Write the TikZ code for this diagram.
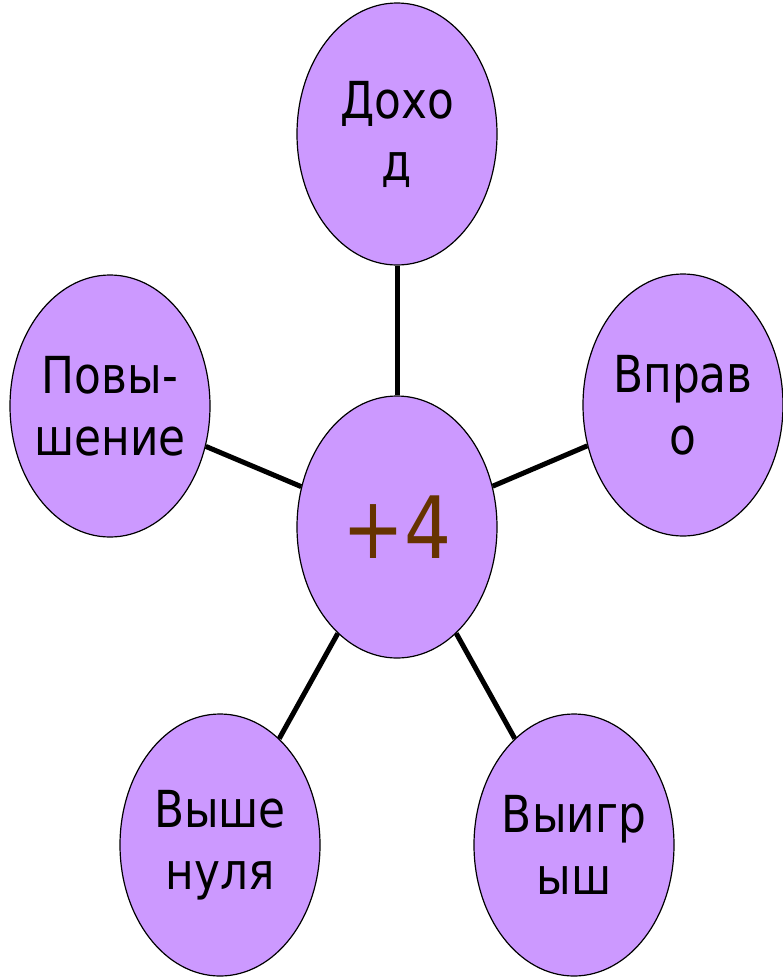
\documentclass[tikz,border=0pt]{standalone}
\usepackage{fontspec}
\setmainfont[FakeStretch=0.86]{DejaVu Sans}
\usetikzlibrary{shapes.geometric}
\definecolor{lilac}{HTML}{CC99FF}
\definecolor{brownish}{HTML}{663300}

\begin{document}
\begin{tikzpicture}[x=1pt,y=-1pt,
                      bubble/.style={ellipse, draw, line width=1.2pt, fill=lilac,
                        minimum width=200pt, minimum height=262pt, inner sep=0pt},
                      word/.style={align=center, inner sep=0pt, font=\fontsize{51}{62}\selectfont},
                      link/.style={line width=5pt}]
                      \useasboundingbox (0,0) rectangle (783,980);
                      \node[bubble, label={[word, font=\fontsize{86}{90}\selectfont, text=brownish]center:+4}] (hub) at (397,527) {};
                      \node[bubble, label={[word]center:{Дохо\\д}}]     (income) at (397,134) {};
                      \node[bubble, label={[word]center:{Вправ\\о}}]    (right)  at (683,405) {};
                      \node[bubble, label={[word]center:{Повы-\\шение}}] (rise)  at (110,406) {};
                      \node[bubble, label={[word]center:{Выше\\нуля}}]  (above)  at (220,845) {};
                      \node[bubble, label={[word]center:{Выигр\\ыш}}]   (win)    at (574,845) {};
                      \draw[link] (hub) -- (income);
                      \draw[link] (hub) -- (right);
                      \draw[link] (hub) -- (rise);
                      \draw[link] (hub) -- (above);
                      \draw[link] (hub) -- (win);
                    \end{tikzpicture}
\end{document}
